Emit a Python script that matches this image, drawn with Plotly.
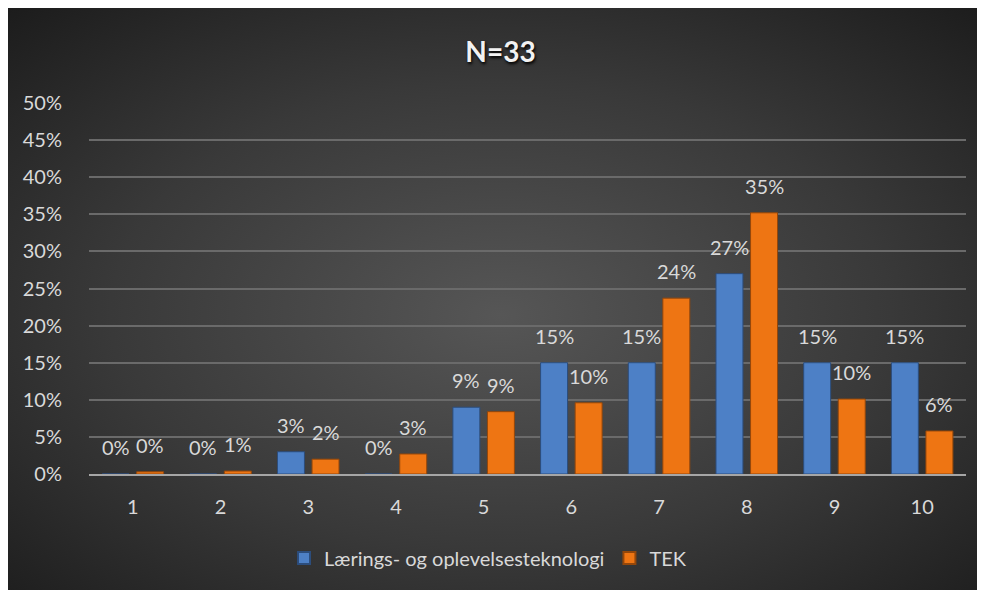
import base64
import plotly.graph_objects as go

categories = ["1", "2", "3", "4", "5", "6", "7", "8", "9", "10"]
laerings_values = [0.0, 0.0, 0.03, 0.0, 0.09, 0.15, 0.15, 0.27, 0.15, 0.15]
tek_values = [0.003, 0.004, 0.02, 0.027, 0.084, 0.096, 0.237, 0.352, 0.101, 0.058]
laerings_labels = ["0%", "0%", "3%", "0%", "9%", "15%", "15%", "27%", "15%", "15%"]
tek_labels = ["0%", "1%", "2%", "3%", "9%", "10%", "24%", "35%", "10%", "6%"]
series_names = ["Lærings- og oplevelsesteknologi", "TEK"]
y_ticks = [0, 0.05, 0.10, 0.15, 0.20, 0.25, 0.30, 0.35, 0.40, 0.45, 0.50]
y_tick_labels = ["0%", "5%", "10%", "15%", "20%", "25%", "30%", "35%", "40%", "45%", "50%"]

FONT = "Lato"
TXT = "#d9d9d9"

W, H = 985, 590
ML, MR, MT, MB = 81, 27, 95, 124
PW, PH = W - ML - MR, H - MT - MB

svg = (
    f'<svg xmlns="http://www.w3.org/2000/svg" width="{W}" height="{H}" viewBox="0 0 {W} {H}" '
    'preserveAspectRatio="none"><defs><radialGradient id="g" cx="50%" cy="52%" r="72%">'
    '<stop offset="0" stop-color="#565656"/><stop offset="0.55" stop-color="#393939"/>'
    '<stop offset="1" stop-color="#1c1c1c"/></radialGradient></defs>'
    f'<rect width="{W}" height="{H}" fill="url(#g)"/></svg>'
)
svg_uri = "data:image/svg+xml;base64," + base64.b64encode(svg.encode()).decode()

fig = go.Figure()
fig.add_trace(go.Bar(
    x=categories, y=laerings_values, name=series_names[0],
    marker=dict(color="#4d80c6", line=dict(color="#2c4d7c", width=1)),
))
fig.add_trace(go.Bar(
    x=categories, y=tek_values, name=series_names[1],
    marker=dict(color="#ee7513", line=dict(color="#94470a", width=1)),
))

BARGAP = 0.212
slot = PW / len(categories) * (1 - BARGAP) / 2
annotations = []
for xs, vals, labs in ((-slot / 2, laerings_values, laerings_labels), (slot / 2, tek_values, tek_labels)):
    for i, (v, lab) in enumerate(zip(vals, labs)):
        annotations.append(dict(
            x=i, y=v, text=lab, showarrow=False, xshift=xs, yshift=27,
            font=dict(family=FONT, size=20, color=TXT), xref="x", yref="y",
        ))

fig.update_layout(
    width=W, height=H,
    margin=dict(l=ML, r=MR, t=MT, b=MB),
    paper_bgcolor="#2a2a2a",
    plot_bgcolor="rgba(0,0,0,0)",
    barmode="group", bargap=BARGAP, bargroupgap=0.22,
    font=dict(family=FONT, size=20, color=TXT),
    title=dict(
        text="<b>N=33</b>", x=0.5, xref="container", xanchor="center",
        y=(H - 44) / H, yref="container", yanchor="middle",
        font=dict(family=FONT, size=28, color="#f2f2f2", shadow="1px 2px 3px #000000"),
    ),
    xaxis=dict(
        type="category", showgrid=False, showline=True, linecolor="#a6a6a6", linewidth=2,
        ticks="outside", ticklen=14, tickcolor="rgba(0,0,0,0)",
        tickfont=dict(family=FONT, size=20, color=TXT), zeroline=False,
    ),
    yaxis=dict(
        range=[0, 0.5], tickvals=y_ticks, ticktext=y_tick_labels,
        showgrid=True, gridcolor="#6a6a6a", gridwidth=1.5, zeroline=False,
        ticks="outside", ticklen=22, tickcolor="rgba(0,0,0,0)",
        tickfont=dict(family=FONT, size=20, color=TXT), showline=False,
    ),
    legend=dict(
        orientation="h", x=0.455, xanchor="center", y=-(550 - (MT + PH)) / PH, yanchor="middle",
        font=dict(family=FONT, size=20, color=TXT), bgcolor="rgba(0,0,0,0)",
        itemsizing="constant", traceorder="normal",
    ),
    annotations=annotations,
    images=[dict(
        source=svg_uri, xref="paper", yref="paper",
        x=-ML / PW, y=(MT + PH) / PH,
        sizex=W / PW, sizey=H / PH,
        xanchor="left", yanchor="top", sizing="stretch", layer="below",
    )],
)

fig.write_html("out.html")
